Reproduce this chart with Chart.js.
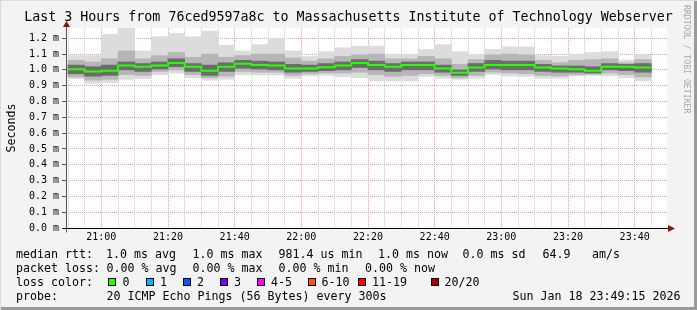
<!DOCTYPE html>
<html>
<head>
<meta charset="utf-8">
<script src="https://cdn.jsdelivr.net/npm/chart.js@4/dist/chart.umd.min.js"></script>
<style>
  html, body { margin: 0; padding: 0; background: #f3f3f3; }
  #frame {
    position: relative; width: 697px; height: 310px; overflow: hidden;
    background: #f3f3f3;
    box-shadow: inset 1px 1px 0 #dcdcdc, inset -3px -3px 0 #9a9a9a;
    font-family: 'DejaVu Sans Mono', monospace;
  }
  #chart { position: absolute; left: 0; top: 0; }
  .row { position: absolute; left: 0; height: 14px; line-height: 14px; font-size: 11.63px; color: #000; }
  .row span { position: absolute; top: 0; white-space: pre; }
  .row i { position: absolute; top: 3px; width: 6px; height: 6px; border: 1px solid #000; }
  #stamp {
    position: absolute; left: 682px; top: 5px; line-height: 10px;
    writing-mode: vertical-rl; font-size: 8.2px; color: #a8a8a8; white-space: pre;
  }
</style>
</head>
<body>
<div id="frame">
  <canvas id="chart" width="697" height="310"></canvas>

  <div id="stamp">RRDTOOL / TOBI OETIKER</div>

  <div class="row" style="top:247px">
    <span style="left:16px">median rtt:</span>
    <span style="left:106px">1.0 ms avg</span>
    <span style="left:192.5px">1.0 ms max</span>
    <span style="left:278.5px">981.4 us min</span>
    <span style="left:378px">1.0 ms now</span>
    <span style="left:462.5px">0.0 ms sd</span>
    <span style="left:542.5px">64.9</span>
    <span style="left:592px">am/s</span>
  </div>
  <div class="row" style="top:261px">
    <span style="left:16px">packet loss:</span>
    <span style="left:106.5px">0.00 % avg</span>
    <span style="left:192.5px">0.00 % max</span>
    <span style="left:278.5px">0.00 % min</span>
    <span style="left:365px">0.00 % now</span>
  </div>
  <div class="row" style="top:275px">
    <span style="left:16px">loss color:</span>
    <i style="left:108px;background:#26ff00"></i><span style="left:122.5px">0</span>
    <i style="left:145.5px;background:#00b8ff"></i><span style="left:160px">1</span>
    <i style="left:182.5px;background:#0059ff"></i><span style="left:197px">2</span>
    <i style="left:219.5px;background:#7e00ff"></i><span style="left:234px">3</span>
    <i style="left:257px;background:#ff00ff"></i><span style="left:271px">4-5</span>
    <i style="left:307.5px;background:#ff5500"></i><span style="left:321.5px">6-10</span>
    <i style="left:358px;background:#ff0000"></i><span style="left:372px">11-19</span>
    <i style="left:430.5px;background:#a10000"></i><span style="left:444.5px">20/20</span>
  </div>
  <div class="row" style="top:289px">
    <span style="left:16px">probe:</span>
    <span style="left:106.5px">20 ICMP Echo Pings (56 Bytes) every 300s</span>
    <span style="left:512.5px">Sun Jan 18 23:49:15 2026</span>
  </div>
</div>

<script>
/* =========================
   DATA (ms, one value per 5 minute step)
========================= */

const stepTimes = [
  '20:50', '20:55', '21:00', '21:05', '21:10', '21:15', '21:20', '21:25', '21:30', '21:35',
  '21:40', '21:45', '21:50', '21:55', '22:00', '22:05', '22:10', '22:15', '22:20', '22:25',
  '22:30', '22:35', '22:40', '22:45', '22:50', '22:55', '23:00', '23:05', '23:10', '23:15',
  '23:20', '23:25', '23:30', '23:35', '23:40'
];

const medianRtt = [
  1.004, 0.989, 0.994, 1.027, 1.019, 1.027, 1.044, 1.019, 0.994, 1.019,
  1.038, 1.031, 1.027, 1.008, 1.008, 1.017, 1.027, 1.044, 1.031, 1.019,
  1.031, 1.031, 1.008, 0.981, 1.015, 1.031, 1.030, 1.031, 1.015, 1.008,
  1.004, 0.994, 1.019, 1.019, 1.015
];

// smoke: outer (min..max), middle and inner bands
const smokeMax = [
  1.090, 1.090, 1.225, 1.270, 1.120, 1.210, 1.230, 1.210, 1.245, 1.155,
  1.120, 1.160, 1.200, 1.120, 1.085, 1.115, 1.140, 1.150, 1.150, 1.100,
  1.095, 1.130, 1.160, 1.115, 1.095, 1.130, 1.145, 1.145, 1.090, 1.085,
  1.100, 1.110, 1.115, 1.062, 1.095
];
const smokeMin = [
  0.945, 0.915, 0.920, 0.940, 0.945, 0.970, 0.980, 0.950, 0.935, 0.940,
  0.970, 0.968, 0.968, 0.947, 0.962, 0.965, 0.958, 0.950, 0.930, 0.930,
  0.930, 0.958, 0.947, 0.940, 0.947, 0.970, 0.960, 0.958, 0.947, 0.947,
  0.962, 0.966, 0.962, 0.950, 0.930
];
const midHigh = [
  1.060, 1.050, 1.070, 1.120, 1.070, 1.090, 1.110, 1.080, 1.100, 1.080,
  1.090, 1.100, 1.100, 1.075, 1.055, 1.070, 1.085, 1.095, 1.100, 1.070,
  1.070, 1.085, 1.070, 1.035, 1.065, 1.095, 1.100, 1.095, 1.060, 1.045,
  1.060, 1.065, 1.070, 1.045, 1.065
];
const midLow = [
  0.955, 0.935, 0.940, 0.970, 0.965, 0.990, 1.000, 0.970, 0.950, 0.960,
  0.990, 0.985, 0.985, 0.965, 0.975, 0.980, 0.980, 0.985, 0.970, 0.960,
  0.965, 0.975, 0.965, 0.950, 0.965, 0.985, 0.980, 0.975, 0.965, 0.962,
  0.970, 0.972, 0.980, 0.970, 0.955
];
const coreHigh = [
  1.030, 1.020, 1.030, 1.050, 1.040, 1.050, 1.070, 1.040, 1.030, 1.045,
  1.060, 1.055, 1.050, 1.035, 1.030, 1.040, 1.050, 1.065, 1.055, 1.040,
  1.050, 1.050, 1.030, 1.000, 1.040, 1.060, 1.055, 1.055, 1.035, 1.025,
  1.025, 1.020, 1.040, 1.035, 1.040
];
const coreLow = [
  0.975, 0.960, 0.965, 1.000, 0.990, 1.005, 1.020, 0.990, 0.965, 0.990,
  1.010, 1.005, 1.000, 0.985, 0.990, 0.995, 1.000, 1.015, 1.000, 0.990,
  1.000, 1.000, 0.985, 0.965, 0.990, 1.005, 1.000, 1.000, 0.990, 0.985,
  0.985, 0.980, 1.000, 0.995, 0.985
];

const xTickLabels = ['21:00', '21:20', '21:40', '22:00', '22:20', '22:40', '23:00', '23:20', '23:40'];
const yTickValues = [0, 0.1, 0.2, 0.3, 0.4, 0.5, 0.6, 0.7, 0.8, 0.9, 1.0, 1.1, 1.2];
const yTickLabels = ['0.0 m', '0.1 m', '0.2 m', '0.3 m', '0.4 m', '0.5 m', '0.6 m',
                     '0.7 m', '0.8 m', '0.9 m', '1.0 m', '1.1 m', '1.2 m'];

const STEP = 5; // minutes per rrd step
const MONO = "'DejaVu Sans Mono', monospace";

// minutes since 20:00
function toMinutes(t) {
  const [h, m] = t.split(':').map(Number);
  return (h - 20) * 60 + m;
}

const stepStart = stepTimes.map(toMinutes);
const labelMinutes = xTickLabels.map(toMinutes);

function band(lo, hi) {
  return stepStart.map((s, i) => ({ x: s + STEP / 2, y: [lo[i], hi[i]] }));
}

const medianPoints = stepStart.map((s, i) => ({ x: s, y: medianRtt[i] }));
medianPoints.push({ x: stepStart[stepStart.length - 1] + STEP, y: medianRtt[medianRtt.length - 1] });

/* =========================
   PLOT FRAME (white area, axes, arrows)
========================= */

const plotFrame = {
  id: 'plotFrame',
  beforeDraw(chart) {
    const { ctx, chartArea: a } = chart;
    ctx.save();
    ctx.fillStyle = '#ffffff';
    ctx.fillRect(a.left, a.top, a.right - a.left, a.bottom - a.top);
    ctx.restore();
  },
  afterDraw(chart) {
    const { ctx, chartArea: a } = chart;
    const ax = Math.round(a.left) + 0.5;
    const ay = Math.round(a.bottom) + 0.5;
    ctx.save();
    ctx.lineWidth = 1;

    // y axis
    ctx.strokeStyle = '#555555';
    ctx.beginPath();
    ctx.moveTo(ax, ay + 4);
    ctx.lineTo(ax, a.top - 1);
    ctx.stroke();

    // x axis
    ctx.strokeStyle = '#000000';
    ctx.beginPath();
    ctx.moveTo(ax - 4, ay);
    ctx.lineTo(a.right + 1, ay);
    ctx.stroke();

    // arrows
    ctx.fillStyle = '#8f1010';
    ctx.beginPath();
    ctx.moveTo(a.right + 1, ay - 3.5);
    ctx.lineTo(a.right + 8, ay);
    ctx.lineTo(a.right + 1, ay + 3.5);
    ctx.closePath();
    ctx.fill();

    ctx.beginPath();
    ctx.moveTo(ax - 3.5, a.top - 1);
    ctx.lineTo(ax, a.top - 7);
    ctx.lineTo(ax + 3.5, a.top - 1);
    ctx.closePath();
    ctx.fill();

    ctx.restore();
  }
};

/* =========================
   CHART
========================= */

const ctx = document.getElementById('chart').getContext('2d');

new Chart(ctx, {
  type: 'bar',
  data: {
    datasets: [
      {
        type: 'line',
        label: 'median rtt',
        data: medianPoints,
        borderColor: '#26ff00',
        borderWidth: 2,
        pointRadius: 0,
        stepped: 'before',
        order: 0
      },
      {
        label: 'inner',
        data: band(coreLow, coreHigh),
        backgroundColor: '#6c6c6c',
        order: 1
      },
      {
        label: 'middle',
        data: band(midLow, midHigh),
        backgroundColor: '#b6b6b6',
        order: 2
      },
      {
        label: 'outer',
        data: band(smokeMin, smokeMax),
        backgroundColor: '#dcdcdc',
        order: 3
      }
    ]
  },

  options: {
    responsive: false,
    animation: false,
    events: [],

    datasets: {
      bar: {
        grouped: false,
        categoryPercentage: 1,
        barPercentage: 1,
        borderWidth: 0
      }
    },

    layout: {
      padding: { left: 0, right: 0, top: 0, bottom: 61 }
    },

    scales: {
      x: {
        type: 'linear',
        min: 49.4,
        max: 229.7,
        offset: false,
        z: 1,
        afterBuildTicks: scale => {
          const ticks = [];
          for (let m = stepStart[0]; m <= stepStart[stepStart.length - 1] + STEP; m += STEP) {
            ticks.push({ value: m });
          }
          scale.ticks = ticks;
        },
        afterFit: scale => { scale.height = 21; },
        grid: {
          offset: false,
          drawTicks: false,
          color: c => (c.tick && labelMinutes.includes(c.tick.value)) ? '#ee9a9a' : '#c9c9c9'
        },
        border: { display: false, dash: [1, 1] },
        ticks: {
          autoSkip: false,
          maxRotation: 0,
          minRotation: 0,
          padding: 3,
          color: '#000',
          font: { family: MONO, size: 10 },
          callback: value => {
            const k = labelMinutes.indexOf(value);
            return k >= 0 ? xTickLabels[k] : '';
          }
        }
      },

      y: {
        type: 'linear',
        position: 'left',
        min: 0,
        max: 1.265,
        z: 1,
        afterBuildTicks: scale => {
          scale.ticks = yTickValues.map(v => ({ value: v }));
        },
        afterFit: scale => { scale.width = 66; },
        grid: {
          color: '#ee9a9a',
          tickColor: '#555555',
          tickLength: 4
        },
        border: { display: false, dash: [1, 1] },
        ticks: {
          padding: 3,
          color: '#000',
          font: { family: MONO, size: 10 },
          callback: (value, index) => yTickLabels[index]
        },
        title: {
          display: true,
          text: 'Seconds',
          color: '#000',
          font: { family: MONO, size: 11.63 },
          padding: { top: 5, bottom: 0 }
        }
      },

      // empty right-hand gutter
      yRight: {
        type: 'linear',
        position: 'right',
        grid: { display: false },
        ticks: { display: false },
        border: { display: false },
        afterFit: scale => { scale.width = 30; }
      }
    },

    plugins: {
      legend: { display: false },
      tooltip: { enabled: false },
      title: {
        display: true,
        text: 'Last 3 Hours from 76ced9597a8c to Massachusetts Institute of Technology Webserver',
        color: '#000',
        font: { family: MONO, size: 13.3, weight: 'normal' },
        padding: { top: 10, bottom: 2 }
      }
    }
  },

  plugins: [plotFrame]
});
</script>
</body>
</html>
